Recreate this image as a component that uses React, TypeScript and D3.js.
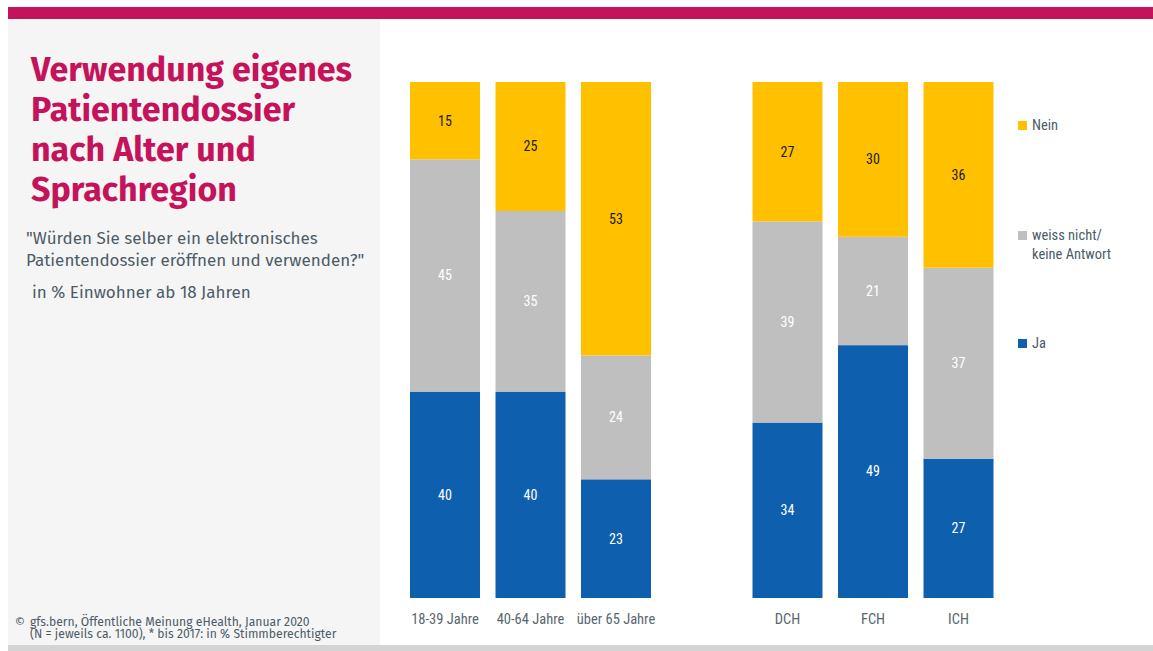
import React from "react";
import * as d3 from "d3";

const categories = ["18-39 Jahre", "40-64 Jahre", "über 65 Jahre", "DCH", "FCH", "ICH"];
const jaValues = [40, 40, 23, 34, 49, 27];
const weissValues = [45, 35, 24, 39, 21, 37];
const neinValues = [15, 25, 53, 27, 30, 36];
const seriesNames = ["Ja", "weiss nicht/\nkeine Antwort", "Nein"];
const seriesColors = ["#0E5FAD", "#BFBFBF", "#FFC000"];
const labelColors = ["#ffffff", "#ffffff", "#1a1a1a"];

const W = 1153;
const H = 651;

export default function App() {
  const y = d3.scaleLinear().domain([0, 100]).range([598, 82]);
  const xPos = [410, 495.5, 581, 752.5, 838, 923.5];
  const barW = 70;
  const values = [jaValues, weissValues, neinValues];
  const stackData = categories.map((c, i) => ({ c, ja: jaValues[i], weiss: weissValues[i], nein: neinValues[i] }));
  const stack = d3.stack<any>().keys(["ja", "weiss", "nein"])(stackData);
  const font = "'Fira Sans', Roboto, 'Open Sans', sans-serif";
  const condFont = "'Liberation Sans Narrow', 'Roboto Condensed', Roboto, sans-serif";
  const legendY = [343, 235, 125];

  return (
    <svg width={W} height={H} style={{ position: "absolute", left: 0, top: 0, display: "block" }}>
      <rect x={0} y={0} width={W} height={H} fill="#ffffff" />
      <rect x={8} y={19} width={372} height={626} fill="#F5F5F5" />
      <rect x={8} y={7} width={W - 8} height={12} fill="#C5135B" />
      <rect x={8} y={645} width={W - 8} height={6} fill="#D4D4D4" />
      <g fontFamily={font} fontWeight={700} fontSize={34} fill="#C5135B">
        {["Verwendung eigenes", "Patientendossier", "nach Alter und", "Sprachregion"].map((t, i) => (
          <text key={i} x={31} y={81 + i * 40}>{t}</text>
        ))}
      </g>
      <g fontFamily={font} fontSize={17} fill="#4D5B67">
        <text x={26} y={244}>"Würden Sie selber ein elektronisches</text>
        <text x={26} y={266}>Patientendossier eröffnen und verwenden?"</text>
        <text x={32} y={298}>in % Einwohner ab 18 Jahren</text>
      </g>
      <g fontFamily={font} fontSize={12.2} fill="#4D5B67">
        <text x={15} y={626}>©</text>
        <text x={30} y={626}>gfs.bern, Öffentliche Meinung eHealth, Januar 2020</text>
        <text x={30} y={638}>(N = jeweils ca. 1100), * bis 2017: in % Stimmberechtigter</text>
      </g>
      {stack.map((layer, si) => (
        <g key={si}>
          {layer.map((d, i) => (
            <g key={i}>
              <rect x={xPos[i]} y={y(d[1])} width={barW} height={y(d[0]) - y(d[1])} fill={seriesColors[si]} />
              <text
                x={xPos[i] + barW / 2}
                y={(y(d[0]) + y(d[1])) / 2}
                dy="0.35em"
                textAnchor="middle"
                fontFamily={condFont}
                fontSize={14}
                fill={labelColors[si]}
              >
                {values[si][i]}
              </text>
            </g>
          ))}
        </g>
      ))}
      <g fontFamily={condFont} fontSize={14.5} fill="#5A6670">
        {categories.map((c, i) => (
          <text key={i} x={xPos[i] + barW / 2} y={624} textAnchor="middle">{c}</text>
        ))}
      </g>
      <g fontFamily={condFont} fontSize={14.5} fill="#4D5B67">
        {seriesNames.map((s, i) => (
          <g key={i}>
            <rect x={1018} y={legendY[i] - 4} width={9} height={9} fill={seriesColors[i]} />
            {s.split("\n").map((line, j) => (
              <text key={j} x={1032} y={legendY[i] + 5 + j * 19}>{line}</text>
            ))}
          </g>
        ))}
      </g>
    </svg>
  );
}
